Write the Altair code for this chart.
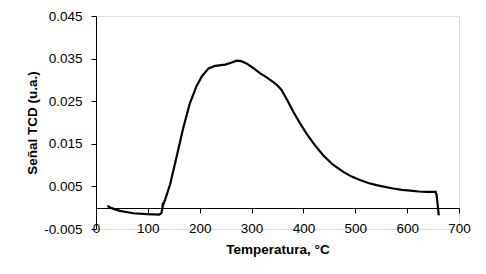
import altair as alt
import pandas as pd

temperature = [22, 30, 46, 72, 98, 122, 126, 128, 129, 130, 133, 143, 155, 168, 181, 194, 204,
               217, 230, 249, 262, 271, 280, 291, 303, 316, 329, 342, 350, 358, 370, 381,
               393, 406, 422, 438, 457, 477, 493, 509, 525, 541, 557, 573, 590, 606, 622,
               638, 655, 657, 661]
signal = [0.0004, -0.0001, -0.00075, -0.0013, -0.0015, -0.0016, -0.0013, -0.0002, 0.0012,
          0.0008, 0.0018, 0.0055, 0.0117, 0.0186, 0.0245, 0.0286, 0.0308,
          0.0327, 0.0333, 0.0336, 0.0341, 0.0345, 0.0344, 0.0338, 0.0328, 0.0316, 0.0306,
          0.0295, 0.0287, 0.0276, 0.0250, 0.0224,
          0.0199, 0.0174, 0.0147, 0.0123, 0.0101, 0.0084, 0.0073, 0.0065, 0.0058, 0.0053,
          0.0049, 0.0045, 0.0042, 0.0040, 0.0038,
          0.0037, 0.0037, 0.0029, -0.0018]
x_ticks = [0, 100, 200, 300, 400, 500, 600, 700]
y_ticks = [-0.005, 0.005, 0.015, 0.025, 0.035, 0.045]

df = pd.DataFrame({"T": temperature, "S": signal, "i": list(range(len(temperature)))})

FONT = "Liberation Sans"

chart = alt.Chart(df).mark_line(color="#000000", strokeWidth=2.2).encode(
    x=alt.X("T:Q", scale=alt.Scale(domain=[0, 700], nice=False, zero=False),
            axis=alt.Axis(values=x_ticks, format="d", grid=False, offset=-21,
                          title="Temperatura, °C", titleFont=FONT, titleFontSize=13.5,
                          titleFontWeight="bold", titleColor="#000000", titlePadding=8,
                          labelFont=FONT, labelFontSize=13.5, labelColor="#000000",
                          labelPadding=8, tickSize=5, tickColor="#000000",
                          domainColor="#000000", labelFlush=False)),
    y=alt.Y("S:Q", scale=alt.Scale(domain=[-0.005, 0.045], nice=False, zero=False),
            axis=alt.Axis(values=y_ticks, grid=False,
                          labelExpr="replace(format(datum.value, '.3f'), '\u2212', '-')",
                          title="Señal TCD (u.a.)", titleFont=FONT, titleFontSize=13.5,
                          titleFontWeight="bold", titleColor="#000000", titlePadding=4,
                          labelFont=FONT, labelFontSize=13.5, labelColor="#000000",
                          labelPadding=9, tickSize=5, tickColor="#000000",
                          domainColor="#000000", labelFlush=False)),
    order="i:Q",
).properties(
    width=363, height=213,
    autosize=alt.AutoSizeParams(type="none"),
    padding={"left": 96, "top": 16, "right": 27, "bottom": 45},
).configure_view(stroke=None).configure(background="white")

chart.save("out.html", embed_options={"renderer": "svg", "actions": False})
